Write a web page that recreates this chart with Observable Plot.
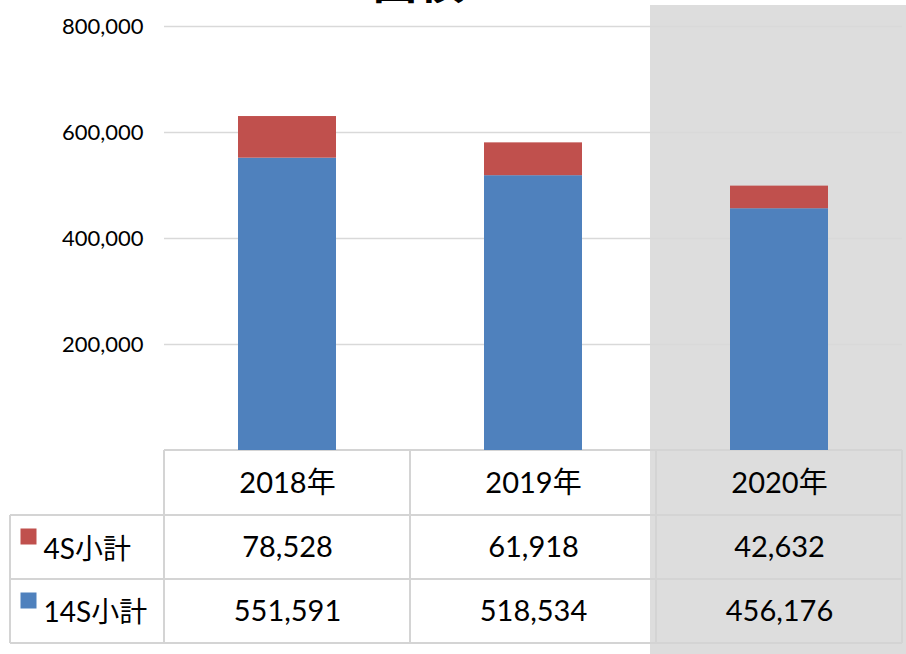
<!DOCTYPE html>
<html>
<head>
<meta charset="utf-8">
<script src="https://cdn.jsdelivr.net/npm/d3@7"></script>
<script src="https://cdn.jsdelivr.net/npm/@observablehq/plot@0.6"></script>
<style>
  html, body { margin: 0; padding: 0; background: #fff; overflow: hidden; }
</style>
</head>
<body>
<div id="chart"></div>
<script>
// ---- data ----
const title = "面積";
const years = ["2018年", "2019年", "2020年"];
const seriesNames = ["14S小計", "4S小計"];
const values14S = [551591, 518534, 456176];
const values4S = [78528, 61918, 42632];
const seriesColors = ["#4f81bd", "#c0504d"];
const yTicks = [200000, 400000, 600000, 800000];
const highlightYear = "2020年";

const data = [];
years.forEach((yr, i) => {
  data.push({ year: yr, series: seriesNames[0], value: values14S[i] });
  data.push({ year: yr, series: seriesNames[1], value: values4S[i] });
});
const fmt = d3.format(",");
const font = "Lato, 'Noto Sans CJK JP', sans-serif";
const cellFont = 29;

const plot = Plot.plot({
  width: 906,
  height: 654,
  marginTop: 26,
  marginBottom: 204,
  marginLeft: 164,
  marginRight: 4,
  style: { fontFamily: font, background: "white", color: "black", overflow: "hidden" },
  x: { domain: years, paddingInner: 0.6, paddingOuter: 0.3, axis: null },
  y: { domain: [0, 800000], axis: null },
  color: { domain: seriesNames, range: seriesColors },
  marks: [
    Plot.gridY(yTicks, { stroke: "#d9d9d9", strokeOpacity: 1, strokeWidth: 1.6 }),
    Plot.barY(data, { x: "year", y: "value", z: "series", fill: "series" }),
    Plot.axisY(yTicks, { tickSize: 0, tickPadding: 21, tickFormat: fmt, fontSize: 22, fill: "black", label: null }),
    // table header
    Plot.text(years, { x: d => d, frameAnchor: "bottom", lineAnchor: "middle", dy: 33, fontSize: cellFont, fill: "black" }),
    // table values
    Plot.text(values4S.map(fmt), { x: (d, i) => years[i], frameAnchor: "bottom", lineAnchor: "middle", dy: 97, fontSize: cellFont, fill: "black" }),
    Plot.text(values14S.map(fmt), { x: (d, i) => years[i], frameAnchor: "bottom", lineAnchor: "middle", dy: 161, fontSize: cellFont, fill: "black" }),
    // row labels
    Plot.text([seriesNames[1]], { frameAnchor: "bottom-left", lineAnchor: "middle", dx: -121, dy: 100, textAnchor: "start", fontSize: 28, fill: "black" }),
    Plot.text([seriesNames[0]], { frameAnchor: "bottom-left", lineAnchor: "middle", dx: -121, dy: 163, textAnchor: "start", fontSize: 28, fill: "black" }),
    Plot.dot([seriesNames[1]], { frameAnchor: "bottom-left", dx: -136, dy: 86, symbol: "square", r: 9.03, fill: seriesColors[1], stroke: null }),
    Plot.dot([seriesNames[0]], { frameAnchor: "bottom-left", dx: -136, dy: 150, symbol: "square", r: 9.03, fill: seriesColors[0], stroke: null })
  ]
});

document.getElementById("chart").appendChild(plot);

// ---- background shading, table grid and title, positioned from Plot's scales ----
const xs = plot.scale("x");
const ys = plot.scale("y");
const bw = xs.bandwidth, step = xs.step;
const cellLeft = yr => xs.apply(yr) - (step - bw) / 2;
const y0 = ys.apply(0);
const rowH = [65, 64, 64];
const rowY = [y0, y0 + rowH[0], y0 + rowH[0] + rowH[1], y0 + rowH[0] + rowH[1] + rowH[2]];
const tableLeft = cellLeft(years[0]);
const tableRight = cellLeft(years[years.length - 1]) + step;
const labelLeft = 10;

const svg = d3.select(plot);
const under = svg.insert("g", ":nth-child(2)");
under.append("rect")
  .attr("x", cellLeft(highlightYear) - 6)
  .attr("y", 5)
  .attr("width", 906 - (cellLeft(highlightYear) - 6))
  .attr("height", 654 - 5)
  .attr("fill", "#dddddd");

const lines = [];
lines.push([tableLeft, rowY[0], tableRight, rowY[0]]);
for (let r = 1; r < rowY.length; r++) lines.push([labelLeft, rowY[r], tableRight, rowY[r]]);
lines.push([labelLeft, rowY[1], labelLeft, rowY[3]]);
years.forEach(yr => lines.push([cellLeft(yr), rowY[0], cellLeft(yr), rowY[3]]));
lines.push([tableRight, rowY[0], tableRight, rowY[3]]);
under.selectAll("line.tbl").data(lines).join("line")
  .attr("x1", d => d[0]).attr("y1", d => d[1])
  .attr("x2", d => d[2]).attr("y2", d => d[3])
  .attr("stroke", "#d4d4d4").attr("stroke-width", 2);

svg.append("text")
  .attr("x", 418).attr("y", -2)
  .attr("text-anchor", "middle")
  .attr("font-family", "'Noto Sans CJK JP', sans-serif")
  .attr("font-weight", "bold")
  .attr("font-size", 46)
  .attr("fill", "black")
  .text(title);
</script>
</body>
</html>
